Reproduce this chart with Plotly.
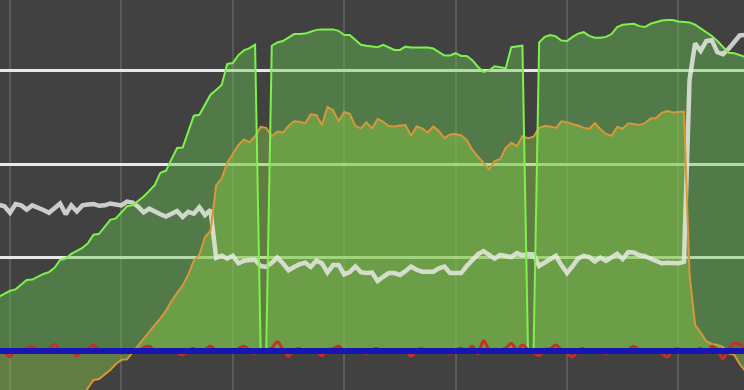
import plotly.graph_objects as go

# sampling of the time axis
t_start = -1.0
t_step = 0.5

green = [
    11.6, 12.2, 12.9, 13.2, 14.1, 15.2, 15.3, 15.9, 16.5, 16.9,
    17.8, 19.5, 19.8, 20.8, 21.5, 22.1, 23.1, 24.9, 25.1, 26.6,
    28.1, 28.4, 29.6, 31.0, 31.2, 32.1, 33.1, 34.3, 35.6, 38.2,
    38.6, 41.1, 43.5, 43.6, 46.9, 50.4, 50.6, 52.7, 54.9, 55.9,
    57.0, 61.5, 61.7, 63.4, 64.4, 64.9, 65.6, 0.0, 0.0, 65.4,
    66.1, 66.4, 67.1, 67.9, 67.9, 68.0, 68.4, 68.8, 68.9, 68.9,
    68.9, 68.6, 67.7, 67.7, 66.6, 65.6, 65.4, 65.3, 65.1, 65.6,
    65.0, 64.5, 64.5, 65.2, 65.0, 65.0, 65.0, 65.0, 64.8, 64.1,
    63.3, 63.3, 63.8, 63.2, 63.2, 62.3, 60.9, 59.8, 60.1, 61.0,
    60.8, 60.6, 65.1, 65.2, 65.4, 0.0, 0.0, 66.1, 67.3, 67.7,
    67.4, 66.5, 66.4, 67.3, 68.0, 68.3, 67.5, 67.1, 67.1, 67.3,
    67.9, 69.4, 69.9, 70.0, 70.1, 69.6, 69.4, 70.1, 70.5, 70.8,
    70.9, 70.9, 70.6, 70.5, 70.4, 69.9, 69.1, 68.4, 67.5, 66.4,
    65.1, 63.9, 63.8, 63.4, 63.0,
]

orange = [
    -26.1, -25.1, -24.0, -22.9, -21.9, -20.8, -19.7, -18.6, -17.6, -16.5,
    -15.4, -14.4, -13.3, -12.2, -11.1, -10.1, -7.9, -6.2, -6.0, -5.1,
    -4.1, -2.8, -1.9, -1.8, -0.3, 1.3, 2.8, 4.2, 5.6, 7.0,
    8.6, 10.7, 12.5, 14.1, 16.3, 19.4, 20.6, 24.4, 25.7, 35.4,
    37.0, 40.3, 42.2, 44.1, 45.3, 44.7, 46.0, 48.0, 47.8, 46.0,
    47.0, 46.8, 48.2, 49.2, 49.1, 48.8, 50.7, 50.5, 48.4, 52.3,
    51.6, 49.2, 51.2, 50.8, 48.2, 47.7, 49.0, 47.7, 49.7, 49.1,
    48.2, 48.1, 48.3, 48.4, 46.1, 48.1, 47.7, 46.8, 48.1, 47.1,
    45.6, 46.4, 46.5, 46.2, 45.2, 43.1, 41.7, 40.3, 38.9, 40.7,
    41.1, 43.5, 44.6, 43.9, 46.0, 45.6, 45.9, 47.8, 48.2, 48.1,
    47.8, 49.2, 49.0, 48.6, 48.3, 47.8, 47.6, 48.8, 47.5, 46.5,
    46.1, 48.0, 47.6, 48.8, 48.6, 48.4, 48.8, 49.8, 49.9, 51.0,
    51.4, 51.1, 51.2, 51.3, 16.3, 5.6, 3.9, 2.1, 1.5, 1.3,
    0.9, -0.5, -0.8, -2.8, -4.3,
]

white = [
    31.3, 31.0, 29.6, 31.5, 31.2, 30.3, 31.2, 30.8, 30.2, 29.6,
    30.6, 31.6, 29.3, 31.2, 29.9, 31.2, 31.4, 31.5, 31.1, 31.2,
    31.6, 31.4, 31.2, 32.0, 31.8, 30.9, 29.7, 30.5, 29.8, 29.3,
    28.8, 29.5, 30.0, 28.7, 29.8, 29.4, 30.8, 29.1, 30.2, 20.0,
    20.4, 19.8, 20.4, 18.8, 19.3, 19.5, 19.5, 18.2, 18.0, 18.9,
    20.0, 18.8, 17.3, 18.0, 18.6, 18.9, 18.0, 19.4, 18.8, 16.8,
    18.4, 18.4, 16.4, 16.9, 18.1, 16.9, 16.7, 16.8, 15.0, 15.9,
    16.7, 16.7, 16.3, 17.1, 18.1, 17.4, 17.0, 17.0, 17.0, 17.7,
    18.1, 16.7, 16.7, 16.7, 18.2, 19.6, 20.7, 21.4, 20.5, 19.8,
    20.6, 20.4, 20.1, 21.0, 20.5, 20.8, 20.7, 18.2, 18.9, 19.7,
    20.4, 18.4, 16.7, 18.2, 19.8, 20.4, 20.1, 19.2, 20.0, 19.3,
    20.1, 20.8, 19.7, 21.2, 21.1, 20.5, 20.3, 19.8, 19.2, 18.8,
    18.9, 18.9, 18.8, 19.1, 58.1, 65.9, 64.3, 66.4, 66.6, 64.0,
    63.6, 64.7, 66.3, 67.6, 67.7,
]

red = [
    0.2, -0.3, -1.2, 0.3, 0.0, 0.6, 1.0, 0.2, -0.3, 0.5,
    1.4, 0.3, -0.2, 0.3, -1.0, 0.2, 0.5, 1.3, 0.2, -0.3,
    0.3, 0.0, -0.5, 0.3, 0.2, -0.2, 0.8, 1.0, 0.0, -0.3,
    0.3, 0.2, -0.3, -0.8, 0.2, 0.5, -0.2, 0.3, 1.0, 0.2,
    -0.3, 0.3, 0.0, 0.5, 1.0, 0.2, -0.5, 0.2, 0.3, 0.6,
    2.0, 0.3, -1.1, 0.2, 0.5, -0.3, 0.3, 0.0, -1.0, 0.3,
    0.5, 1.0, 0.0, -0.3, 0.3, 0.2, -0.5, 0.3, 0.5, -0.2,
    0.2, 0.3, -0.3, 0.2, -1.1, 0.2, 0.5, 0.0, -0.3, 0.3,
    0.2, -0.5, 0.3, 0.6, 0.0, 1.0, -0.6, 2.2, 0.3, -0.3,
    0.2, 0.6, 1.6, 0.2, 1.3, 0.3, -0.3, -1.0, 0.3, 0.5,
    1.3, 0.2, -0.5, -1.3, 0.2, 0.5, -0.3, 0.3, 0.2, -0.5,
    0.3, 0.0, -0.3, 0.3, 1.0, 0.2, -0.3, 0.3, 0.0, -0.5,
    -1.3, 0.2, 0.5, -0.3, 0.3, 0.0, 0.6, -0.5, 1.0, 0.2,
    -1.6, 0.3, 1.6, 1.4, 0.3,
]

t = [t_start + t_step * i for i in range(len(green))]

BG = "#414141"
fig = go.Figure()

# translucent fills
fig.add_trace(go.Scatter(x=t, y=green, mode="lines", fill="tozeroy",
                         line=dict(width=0), fillcolor="rgba(107,202,83,0.42)"))
fig.add_trace(go.Scatter(x=t, y=orange, mode="lines", fill="tozeroy",
                         line=dict(width=0), fillcolor="rgba(140,200,72,0.45)"))
# pale line, slightly see-through
fig.add_trace(go.Scatter(x=t, y=white, mode="lines",
                         line=dict(color="rgba(236,236,232,0.82)", width=4.5)))
# lines on top
fig.add_trace(go.Scatter(x=t, y=orange, mode="lines",
                         line=dict(color="#d8973a", width=2)))
fig.add_trace(go.Scatter(x=t, y=green, mode="lines",
                         line=dict(color="#7cf24a", width=2)))
fig.add_trace(go.Scatter(x=t, y=red, mode="lines",
                         line=dict(color="#c4302a", width=3, shape="spline")))

fig.add_hline(y=0, line=dict(color="#1616b4", width=6), layer="above")

fig.update_layout(
    width=744, height=390,
    margin=dict(l=0, r=0, t=0, b=0),
    paper_bgcolor=BG, plot_bgcolor=BG,
    showlegend=False, hovermode=False,
    xaxis=dict(range=[-0.898, 65.89], tick0=0, dtick=10,
               showgrid=True, gridcolor="#5a5a5a", gridwidth=2,
               zeroline=False, showticklabels=False, ticks="", showline=False),
    yaxis=dict(range=[-8.36, 75.2], tick0=0, dtick=20,
               showgrid=True, gridcolor="#e8e8e8", gridwidth=2.5,
               zeroline=False, showticklabels=False, ticks="", showline=False),
)

fig.write_html("out.html")
